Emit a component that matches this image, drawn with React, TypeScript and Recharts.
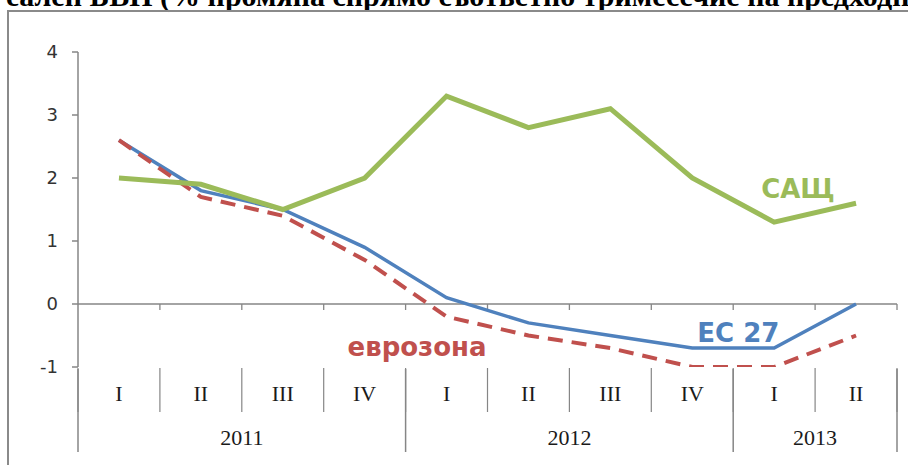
import React from 'react';
import { LineChart, Line, XAxis, YAxis, ReferenceLine } from 'recharts';

const quarters = ['I', 'II', 'III', 'IV', 'I', 'II', 'III', 'IV', 'I', 'II'];
const years = ['2011', '2012', '2013'];
const quartersPerYear = [4, 4, 2];

const usa = [2.0, 1.9, 1.5, 2.0, 3.3, 2.8, 3.1, 2.0, 1.3, 1.6];
const eu27 = [2.6, 1.8, 1.5, 0.9, 0.1, -0.3, -0.5, -0.7, -0.7, 0.0];
const euroArea = [2.6, 1.7, 1.4, 0.7, -0.2, -0.5, -0.7, -1.0, -1.0, -0.5];

const yTicks = [-1, 0, 1, 2, 3, 4];

const data = quarters.map((q, i) => ({ i, q, usa: usa[i], eu27: eu27[i], euroArea: euroArea[i] }));

// category boundaries sit half a step between quarters
const boundaries = [...quarters.map((_, i) => i - 0.5), quarters.length - 0.5];
const yearStarts = quartersPerYear.map((_, k) => quartersPerYear.slice(0, k).reduce((a, b) => a + b, 0));
const yearCenters = yearStarts.map((s, k) => s + (quartersPerYear[k] - 1) / 2);
const yearBounds = [...yearStarts.map((s) => s - 0.5), quarters.length - 0.5];
const domain: [number, number] = [-0.5, quarters.length - 0.5];

const AXIS = '#868686';
const GREEN = '#9BBB59';
const BLUE = '#4F81BD';
const RED = '#C0504D';

const seriesLabel = (text: string, at: number, dx: number, dy: number, color: string) => (props: any) =>
  props.index === at ? (
    <text x={props.x + dx} y={props.y + dy} fill={color} fontSize={26} fontWeight="bold" fontFamily="DejaVu Sans">
      {text}
    </text>
  ) : null;

const QuarterTick = (props: any) => (
  <text x={props.x} y={props.y + 34} textAnchor="middle" fontSize={22} fontFamily="Liberation Serif" fill="#1a1a1a">
    {quarters[props.payload.value]}
  </text>
);

const YearTick = (props: any) => (
  <text x={props.x} y={props.y + 75} textAnchor="middle" fontSize={22} fontFamily="Liberation Serif" fill="#1a1a1a">
    {years[props.index]}
  </text>
);

const NoTick = () => <g />;

// horizontal axis crossing at zero, with short ticks between categories
const ZeroAxis = (props: any) => {
  const { x1, x2, y1 } = props;
  const toX = (v: number) => x1 + ((v - domain[0]) / (domain[1] - domain[0])) * (x2 - x1);
  return (
    <g>
      <line x1={x1} y1={y1} x2={x2} y2={y1} stroke={AXIS} strokeWidth={1.5} />
      {boundaries.slice(1).map((b) => (
        <line key={b} x1={toX(b)} y1={y1} x2={toX(b)} y2={y1 + 6} stroke={AXIS} strokeWidth={1.3} />
      ))}
    </g>
  );
};

export default function App() {
  return (
    <div style={{ position: 'absolute', left: 0, top: 0, width: 908, height: 465, overflow: 'hidden', background: '#fff' }}>
      <div
        style={{
          position: 'absolute',
          left: -12,
          top: -19,
          whiteSpace: 'nowrap',
          fontFamily: 'Liberation Serif',
          fontWeight: 'bold',
          fontSize: 30,
          lineHeight: '30px',
          color: '#000',
        }}
      >
        Реален БВП (% промяна спрямо съответно тримесечие на предходната година)
      </div>
      <div
        style={{
          position: 'absolute',
          left: 7,
          top: 10,
          width: 940,
          height: 500,
          border: '2.5px solid #8a8a8a',
        }}
      />
      <div style={{ position: 'absolute', left: 0, top: 0 }}>
        <LineChart width={908} height={465} data={data} margin={{ top: 52, right: 11, bottom: 94, left: 0 }}>
          <YAxis
            domain={[-1, 4]}
            ticks={yTicks}
            width={78}
            tickSize={6}
            tickMargin={14}
            allowDataOverflow
            axisLine={{ stroke: AXIS, strokeWidth: 1.5 }}
            tickLine={{ stroke: AXIS, strokeWidth: 1.5 }}
            tick={{ fill: '#333', fontSize: 18, fontFamily: 'DejaVu Sans' }}
          />
          <XAxis
            xAxisId="q"
            dataKey="i"
            type="number"
            domain={domain}
            allowDataOverflow
            ticks={quarters.map((_, i) => i)}
            height={1}
            tickSize={0}
            tickMargin={0}
            axisLine={false}
            tickLine={false}
            tick={<QuarterTick />}
          />
          <XAxis
            xAxisId="qd"
            dataKey="i"
            type="number"
            domain={domain}
            allowDataOverflow
            ticks={boundaries}
            height={1}
            tickSize={44}
            tickMargin={0}
            axisLine={false}
            tickLine={{ stroke: AXIS, strokeWidth: 1.2 }}
            tick={<NoTick />}
          />
          <XAxis
            xAxisId="yd"
            dataKey="i"
            type="number"
            domain={domain}
            allowDataOverflow
            ticks={yearBounds}
            height={1}
            tickSize={83}
            tickMargin={0}
            axisLine={false}
            tickLine={{ stroke: AXIS, strokeWidth: 1.5 }}
            tick={<NoTick />}
          />
          <XAxis
            xAxisId="yl"
            dataKey="i"
            type="number"
            domain={domain}
            allowDataOverflow
            ticks={yearCenters}
            height={1}
            tickSize={0}
            tickMargin={0}
            axisLine={false}
            tickLine={false}
            tick={<YearTick />}
          />
          <ReferenceLine xAxisId="q" y={0} stroke={AXIS} strokeWidth={1.5} shape={ZeroAxis} />
          <Line
            xAxisId="q"
            dataKey="eu27"
            type="linear"
            stroke={BLUE}
            strokeWidth={3.5}
            dot={false}
            isAnimationActive={false}
            label={seriesLabel('ЕС 27', 7, 5, -6, BLUE)}
          />
          <Line
            xAxisId="q"
            dataKey="euroArea"
            type="linear"
            stroke={RED}
            strokeWidth={4}
            strokeDasharray="15 9"
            dot={false}
            isAnimationActive={false}
            label={seriesLabel('еврозона', 4, -99, 39, RED)}
          />
          <Line
            xAxisId="q"
            dataKey="usa"
            type="linear"
            stroke={GREEN}
            strokeWidth={5}
            dot={false}
            isAnimationActive={false}
            label={seriesLabel('САЩ', 8, -13, -24, GREEN)}
          />
        </LineChart>
      </div>
    </div>
  );
}
